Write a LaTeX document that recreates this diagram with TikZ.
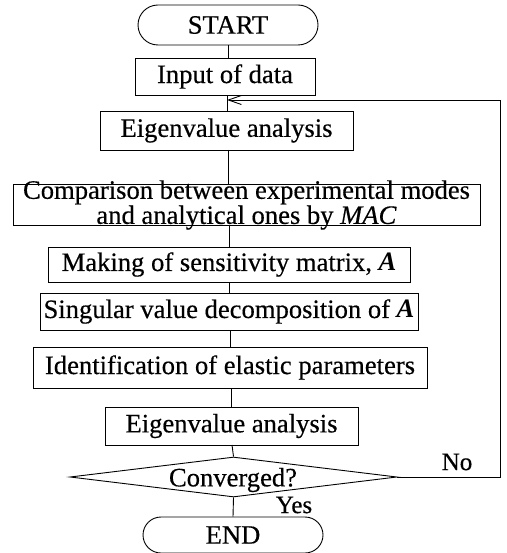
\documentclass[tikz,border=0pt]{standalone}
\usepackage{fontspec}
\setmainfont{Liberation Serif}[UprightFeatures={FakeBold=0.4},ItalicFeatures={FakeBold=0.4}]
\usetikzlibrary{shapes.misc,shapes.geometric,arrows.meta}
\begin{document}
\begin{tikzpicture}[x=1pt,y=-1pt,
  every node/.style={font=\fontsize{26.6}{23}\selectfont, inner sep=0pt},
  stepbox/.style={draw, line width=0.9pt, rectangle},
  term/.style={draw, line width=0.9pt, rounded rectangle, minimum width=180pt},
  conn/.style={line width=0.9pt},
  lbl/.style={font=\fontsize{25}{25}\selectfont}]
\useasboundingbox (0,0) rectangle (506,553);
\node[term, minimum height=40pt] (start) at (228,25) {START};
\node[stepbox, minimum width=180pt, minimum height=37pt] (input) at (225,76.5) {Input of data};
\node[stepbox, minimum width=253pt, minimum height=39pt] (eig1) at (226.5,130.5) {Eigenvalue analysis};
\node[stepbox, minimum width=467pt, minimum height=41pt] (comp) at (246.5,205) {\parbox[c][38pt][c]{460pt}{\centering Comparison between experimental modes\\ and analytical ones by \textit{MAC}}};
\node[stepbox, minimum width=362pt, minimum height=35pt] (mak) at (229,264.5) {Making of sensitivity matrix, \textbf{\textit{A}}};
\node[stepbox, minimum width=378pt, minimum height=37pt] (svd) at (229,311.5) {Singular value decomposition of \textbf{\textit{A}}};
\node[stepbox, minimum width=394pt, minimum height=41pt] (ident) at (230,367.5) {Identification of elastic parameters};
\node[stepbox, minimum width=253pt, minimum height=38pt] (eig2) at (231.5,426) {Eigenvalue analysis};
\node[draw, line width=0.9pt, diamond, minimum width=327pt, minimum height=40pt] (conv) at (233.5,477) {};
\node (convtxt) at (233,480) {Converged?};
\node[term, minimum height=36pt] (end) at (233,535) {END};
\node[lbl] (no) at (457,462) {No};
\node[lbl] (yes) at (294,505) {Yes};
\coordinate (merge) at (227,100);
\coordinate (rc) at (500,100);
\draw[conn] (start.south) -- (start.south |- input.north);
\draw[conn] (merge |- input.south) -- (merge |- eig1.north);
\draw[conn] (228,150) -- (228,185);
\draw[conn] (229,225) -- (229,247);
\draw[conn] (229,282) -- (229,293);
\draw[conn] (230,330) -- (230,347);
\draw[conn] (231,388) -- (231,407);
\draw[conn] (232,445) -- (conv.north);
\draw[conn] (conv.south) -- (end.north);
\draw[conn, -{Straight Barb[length=13pt,width=9pt]}] (conv.east) -- (rc |- conv.east) -- (rc) -- (merge);
\end{tikzpicture}
\end{document}
